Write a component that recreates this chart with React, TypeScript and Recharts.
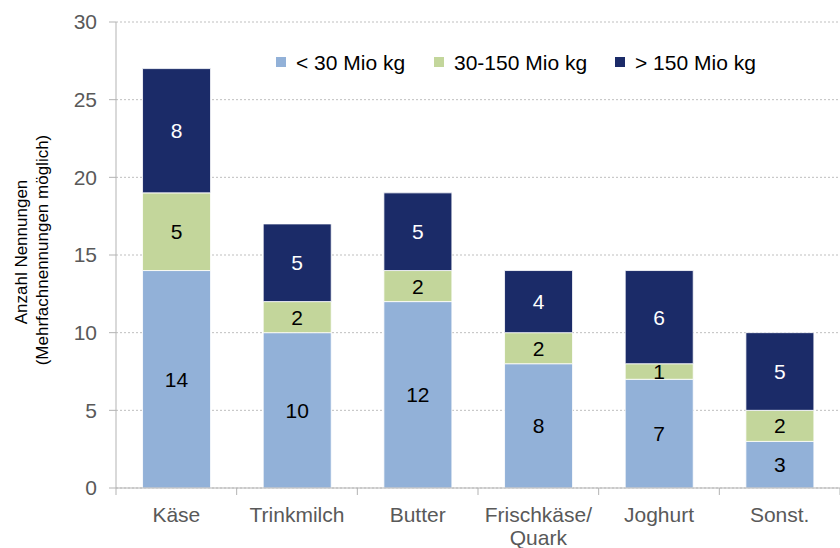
import React from "react";
import { BarChart, Bar, XAxis, YAxis, CartesianGrid, LabelList } from "recharts";

const categories = ["Käse", "Trinkmilch", "Butter", "Frischkäse/\nQuark", "Joghurt", "Sonst."];
const small = [14, 10, 12, 8, 7, 3];
const medium = [5, 2, 2, 2, 1, 2];
const large = [8, 5, 5, 4, 6, 5];
const yTicks = [0, 5, 10, 15, 20, 25, 30];

const SERIES = [
  { key: "small", name: "< 30 Mio kg", color: "#92B1D8", labelColor: "#000" },
  { key: "medium", name: "30-150 Mio kg", color: "#C3D69B", labelColor: "#000" },
  { key: "large", name: "> 150 Mio kg", color: "#1B2B68", labelColor: "#fff" },
];

const data = categories.map((c, i) => ({
  name: c,
  small: small[i],
  medium: medium[i],
  large: large[i],
}));

const FONT = "'Liberation Sans', Arial, sans-serif";
const AXIS_GRAY = "#B3B3B3";
const BAND = (840 - 116) / categories.length;

function CategoryTick(props: any) {
  const { x, y, payload, index } = props;
  const lines = String(payload.value).split("\n");
  return (
    <g>
      <line x1={x - BAND / 2} x2={x - BAND / 2} y1={y - 8} y2={y - 1} stroke={AXIS_GRAY} />
      {index === categories.length - 1 && (
        <line x1={x + BAND / 2} x2={x + BAND / 2} y1={y - 8} y2={y - 1} stroke={AXIS_GRAY} />
      )}
      <text x={x} y={y + 26} textAnchor="middle" fill="#595959" fontSize={21} fontFamily={FONT}>
        {lines.map((l, i) => (
          <tspan key={i} x={x} dy={i === 0 ? 0 : 23}>
            {l}
          </tspan>
        ))}
      </text>
    </g>
  );
}

function LegendOverlay() {
  const offsets = [0, 158, 339];
  return (
    <svg
      width={520}
      height={30}
      style={{ position: "absolute", left: 276, top: 47, overflow: "visible" }}
    >
      {SERIES.map((s, i) => (
        <g key={s.key} transform={`translate(${offsets[i]},0)`}>
          <rect x={0} y={10} width={10} height={10} fill={s.color} />
          <text x={20} y={22.5} fontSize={21} fontFamily={FONT} fill="#000">
            {s.name}
          </text>
        </g>
      ))}
    </svg>
  );
}

function YLabel() {
  return (
    <g fontSize={17} fontFamily={FONT} fill="#000" textAnchor="middle">
      <text transform="translate(27,252) rotate(-90)">Anzahl Nennungen</text>
      <text transform="translate(48,250) rotate(-90)">(Mehrfachnennungen möglich)</text>
    </g>
  );
}

export default function App() {
  return (
    <div style={{ position: "absolute", left: 0, top: 0, width: 840, height: 548, background: "#fff" }}>
      <BarChart
        width={840}
        height={548}
        data={data}
        margin={{ top: 22, right: 0, bottom: 0, left: 0 }}
        barCategoryGap="22%"
      >
        <CartesianGrid vertical={false} stroke="#BFBFBF" strokeDasharray="2 2" />
        <XAxis
          dataKey="name"
          interval={0}
          tickLine={false}
          axisLine={{ stroke: AXIS_GRAY }}
          tick={<CategoryTick />}
          height={60}
        />
        <YAxis
          width={116}
          domain={[0, 30]}
          ticks={yTicks}
          interval={0}
          axisLine={{ stroke: AXIS_GRAY }}
          tickLine={{ stroke: AXIS_GRAY }}
          tickSize={7}
          tickMargin={12}
          tick={{ fill: "#595959", fontSize: 21, fontFamily: FONT }}
          label={<YLabel />}
        />
        {SERIES.map((s) => (
          <Bar
            key={s.key}
            dataKey={s.key}
            name={s.name}
            stackId="a"
            fill={s.color}
            stroke="#ffffff"
            strokeWidth={0.8}
            isAnimationActive={false}
          >
            <LabelList
              dataKey={s.key}
              position="center"
              fill={s.labelColor}
              fontSize={21}
              fontFamily={FONT}
            />
          </Bar>
        ))}
      </BarChart>
      <LegendOverlay />
    </div>
  );
}
